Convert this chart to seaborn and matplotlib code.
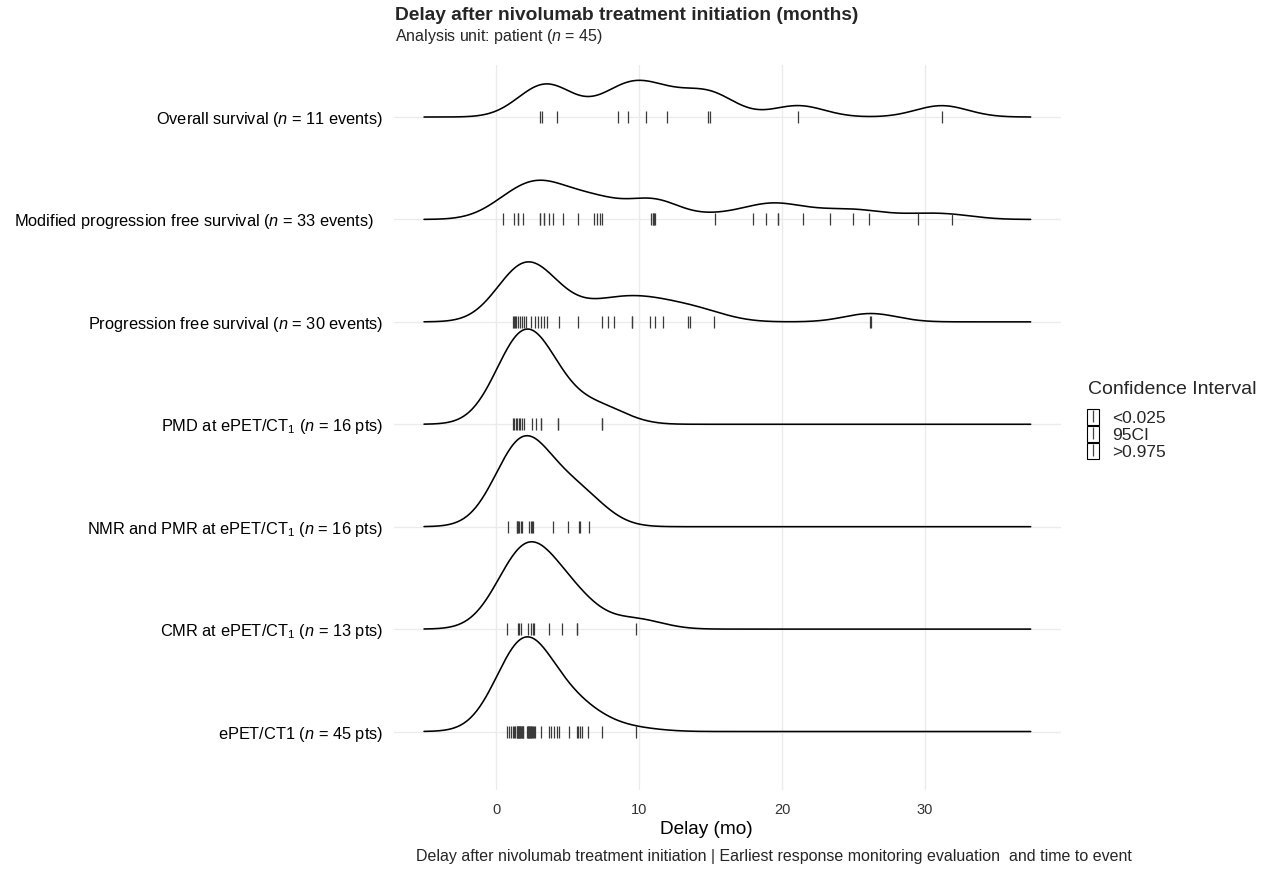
import numpy as np
import pandas as pd
import matplotlib
matplotlib.use("Agg")
import matplotlib.pyplot as plt
import matplotlib.transforms as mtransforms
import seaborn as sns
from matplotlib.lines import Line2D
from matplotlib.patches import Patch
from matplotlib.legend_handler import HandlerTuple

sns.set_theme(style="whitegrid")
plt.rcParams['font.family'] = ['Liberation Sans', 'DejaVu Sans']
plt.rcParams['mathtext.fontset'] = 'custom'
plt.rcParams['mathtext.rm'] = 'Liberation Sans'
plt.rcParams['mathtext.it'] = 'Liberation Sans:italic'

# ---- data (months after nivolumab initiation) ----
os_events = [3.07, 3.19, 4.24, 8.53, 9.24, 10.5, 11.98, 14.84, 14.98, 21.13, 31.17]
mpfs_events = [0.45, 1.27, 1.50, 1.50, 1.90, 3.07, 3.07, 3.35, 3.35, 3.70, 3.96,
               4.71, 5.74, 6.87, 7.05, 7.25, 7.43, 10.86, 10.95, 11.0, 11.07, 11.14,
               15.31, 17.94, 18.85, 19.70, 19.70, 21.48, 23.35, 24.99, 26.1, 29.5, 31.9]
pfs_events = [1.17, 1.24, 1.31, 1.38, 1.50, 1.66, 1.83, 1.94, 2.10, 2.41, 2.71, 2.92,
              3.13, 3.35, 3.59, 4.41, 5.74, 7.43, 7.83, 8.28, 9.50, 9.50, 10.74, 11.11,
              11.70, 13.39, 13.58, 15.22, 26.15, 26.25]
pmd_pts = [1.17, 1.27, 1.38, 1.48, 1.57, 1.68, 1.80, 1.95,
           2.53, 2.79, 3.12, 3.12, 4.34, 4.34, 7.39, 7.39]
nmr_pmr_pts = [0.84, 1.43, 1.47, 1.50, 1.59, 1.71, 1.81, 2.32, 2.41, 2.50, 2.56,
               4.01, 5.06, 5.77, 5.89, 6.47]
cmr_pts = [0.75, 1.52, 1.62, 1.71, 2.20, 2.46, 2.58, 2.67, 3.68, 4.62, 5.63, 5.63, 9.82]
epet_pts = [0.77, 0.89, 1.01, 1.17, 1.27, 1.34, 1.43, 1.45, 1.52, 1.55, 1.59, 1.62,
            1.66, 1.70, 1.74, 1.78, 1.81, 1.85, 1.88, 2.18, 2.22, 2.25, 2.30, 2.32,
            2.38, 2.41, 2.47, 2.53, 2.58, 2.63, 2.72, 3.17, 3.70, 3.87, 4.06, 4.24,
            4.43, 5.09, 5.63, 5.74, 5.86, 5.98, 6.45, 7.41, 9.80]

# bottom -> top
row_labels = [
    "ePET/CT1 ($n$ = 45 pts)",
    "CMR at ePET/CT$_1$ ($n$ = 13 pts)",
    "NMR and PMR at ePET/CT$_1$ ($n$ = 16 pts)",
    "PMD at ePET/CT$_1$ ($n$ = 16 pts)",
    "Progression free survival ($n$ = 30 events)",
    "Modified progression free survival ($n$ = 33 events)",
    "Overall survival ($n$ = 11 events)",
]
groups = [epet_pts, cmr_pts, nmr_pmr_pts, pmd_pts, pfs_events, mpfs_events, os_events]

x_ticks = [0, 10, 20, 30]
legend_title = "Confidence Interval"
legend_labels = ["<0.025", "95CI", ">0.975"]

# ---- joint-bandwidth gaussian densities (ridgeline style) ----
bw = 1.83          # joint smoothing bandwidth (months)
allv = np.concatenate([np.asarray(g, float) for g in groups])
grid = np.linspace(allv.min() - 3 * bw, allv.max() + 3 * bw, 600)

dens = []
for g in groups:
    g = np.asarray(g, float)
    d = np.exp(-0.5 * ((grid[:, None] - g[None, :]) / bw) ** 2).sum(1) / (len(g) * bw * np.sqrt(2 * np.pi))
    dens.append(d)
peak = max(d.max() for d in dens)
scale = 0.93

ridge_df = pd.concat([
    pd.DataFrame({"x": grid, "y": i + d / peak * scale, "grp": i})
    for i, d in enumerate(dens)
], ignore_index=True)
pts_df = pd.concat([
    pd.DataFrame({"x": np.asarray(g, float), "y": float(i)})
    for i, g in enumerate(groups)
], ignore_index=True)

# ---- figure ----
W, H = 1263, 873
fig = plt.figure(figsize=(W / 100, H / 100), dpi=100)
xr = grid.max() - grid.min()
xlim = (grid.min() - 0.05 * xr, grid.max() + 0.05 * xr)
left_px, right_px = 393.7, 1061
top_px, bottom_px = 65, 790
ax = fig.add_axes([left_px / W, 1 - bottom_px / H, (right_px - left_px) / W, (bottom_px - top_px) / H])
ax.set_facecolor("white")

sns.lineplot(data=ridge_df, x="x", y="y", units="grp", estimator=None, sort=False,
             color="black", linewidth=1.15, ax=ax, legend=False, zorder=3)
sns.scatterplot(data=pts_df, x="x", y="y", marker="|", s=80, linewidth=0.9,
                color="#3a3a3a", ax=ax, legend=False, zorder=4)

ax.set_xlim(*xlim)
ax.set_ylim(-0.571, 6.508)
ax.set_xticks(x_ticks)
ax.set_yticks(range(len(row_labels)))
ax.set_yticklabels(row_labels)
ax.grid(True, color="#EBEBEB", linewidth=1.0)
ax.set_axisbelow(True)
for s in ax.spines.values():
    s.set_visible(False)
ax.tick_params(axis="y", length=0, pad=7.5, labelsize=11.8, labelcolor="black")
ax.tick_params(axis="x", length=0, pad=9, labelsize=10.5, labelcolor="#333333")
# the "Modified ..." label carries a trailing space in the original
lbl = ax.get_yticklabels()[5]
lbl.set_transform(lbl.get_transform() + mtransforms.ScaledTranslation(-9 / 100, 0, fig.dpi_scale_trans))
ax.set_ylabel("")
ax.set_xlabel("Delay (mo)", fontsize=13.7, color="black")
ax.xaxis.set_label_coords((706 - left_px) / (right_px - left_px),
                          -(830 - bottom_px) / (bottom_px - top_px), transform=ax.transAxes)
ax.xaxis.label.set_va("center")

fig.text(395 / W, 1 - 16 / H, "Delay after nivolumab treatment initiation (months)",
         fontsize=13.8, fontweight="bold", ha="left", va="center")
fig.text(395 / W, 1 - 37 / H, "Analysis unit: patient ($n$ = 45)",
         fontsize=11.5, ha="left", va="center")
fig.text(416 / W, 1 - 856 / H,
         "Delay after nivolumab treatment initiation | Earliest response monitoring evaluation  and time to event",
         fontsize=11.5, ha="left", va="center")

# legend
fig.text(1088 / W, 1 - 389 / H, legend_title, fontsize=14, ha="left", va="center")
key = (Patch(facecolor="white", edgecolor="black", linewidth=0.8),
       Line2D([], [], marker="|", linestyle="None", color="#444444", markersize=8, markeredgewidth=0.9))
leg = fig.legend([key, key, key], legend_labels,
                 handler_map={tuple: HandlerTuple(ndivide=1, pad=0)},
                 loc="upper left", bbox_to_anchor=(1087 / W, 1 - 409 / H),
                 frameon=False, handlelength=0.69, handleheight=1.06, labelspacing=0.0,
                 handletextpad=0.75, borderpad=0.0, borderaxespad=0.0,
                 fontsize=12.5)

fig.savefig("out.png", dpi=100)
